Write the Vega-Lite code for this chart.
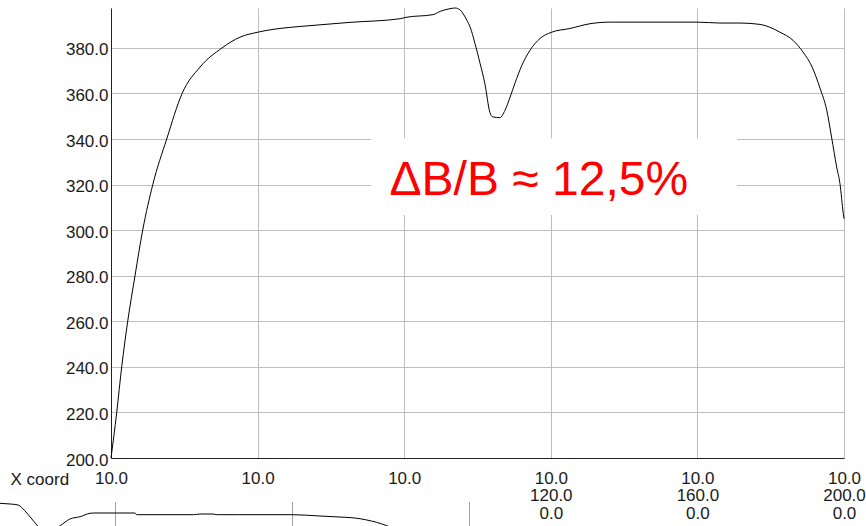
{
  "$schema": "https://vega.github.io/schema/vega-lite/v6.json",
  "width": 733,
  "height": 450,
  "autosize": "none",
  "padding": {"left": 111, "top": 8, "right": 22, "bottom": 68},
  "background": "white",
  "config": {"view": {"stroke": null}, "font": "Liberation Sans"},
  "datasets": {
    "main": [
      {"x": 0, "v": 200}, {"x": 1.56, "v": 220}, {"x": 2.92, "v": 240}, {"x": 4.56, "v": 260},
      {"x": 6.55, "v": 280}, {"x": 8.65, "v": 300}, {"x": 11.4, "v": 320}, {"x": 15.2, "v": 340},
      {"x": 19.4, "v": 360}, {"x": 24.3, "v": 371.6}, {"x": 30.3, "v": 380}, {"x": 35.2, "v": 384.7},
      {"x": 40.1, "v": 386.9}, {"x": 48.8, "v": 389.0}, {"x": 51.6, "v": 389.4}, {"x": 65.2, "v": 391.2},
      {"x": 78.9, "v": 392.8}, {"x": 80.5, "v": 393.4}, {"x": 87.9, "v": 394.6}, {"x": 89.8, "v": 396.0},
      {"x": 92.5, "v": 397.2}, {"x": 93.9, "v": 397.5}, {"x": 95.2, "v": 396.7}, {"x": 97.1, "v": 392.1},
      {"x": 98.0, "v": 389.1}, {"x": 99.3, "v": 382.0}, {"x": 100.7, "v": 373.2}, {"x": 102.0, "v": 364.4},
      {"x": 103.4, "v": 351.6}, {"x": 104.2, "v": 349.7}, {"x": 106.1, "v": 349.4}, {"x": 107.5, "v": 352.6},
      {"x": 108.9, "v": 358.4}, {"x": 110.2, "v": 364.4}, {"x": 112.1, "v": 372.3}, {"x": 114.3, "v": 378.9},
      {"x": 117.1, "v": 384.2}, {"x": 120.1, "v": 386.8}, {"x": 125.2, "v": 388.5}, {"x": 130.7, "v": 390.6},
      {"x": 136.2, "v": 391.3}, {"x": 159.9, "v": 391.3}, {"x": 166.2, "v": 390.9}, {"x": 171.6, "v": 390.9},
      {"x": 177.1, "v": 390.3}, {"x": 182.5, "v": 386.9}, {"x": 186.1, "v": 383.3}, {"x": 188.8, "v": 378.2},
      {"x": 191.3, "v": 371.6}, {"x": 193.5, "v": 362.1}, {"x": 195.3, "v": 352.6}, {"x": 196.6, "v": 340.9},
      {"x": 198.0, "v": 327.7}, {"x": 198.9, "v": 320.4}, {"x": 199.8, "v": 307.3}, {"x": 200, "v": 305}
    ],
    "note": [
      {"x1": 70.9, "x2": 170.8, "y1": 306.6, "y2": 340.3, "tx": 76.0, "ty": 315.3, "label": "ΔB/B ≈ 12,5%"}
    ],
    "lower": [
      {"lx": -26.1, "lv": 398.7}, {"lx": -23.8, "lv": 398}, {"lx": -22.0, "lv": 397}, {"lx": -20.5, "lv": 391.3},
      {"lx": -18.9, "lv": 383}, {"lx": -17.1, "lv": 374}, {"lx": -15.0, "lv": 370}, {"lx": -12.5, "lv": 376.3},
      {"lx": -10.3, "lv": 383}, {"lx": -8.0, "lv": 385.3}, {"lx": -5.8, "lv": 388.7}, {"lx": -5.0, "lv": 389},
      {"lx": 4.4, "lv": 389}, {"lx": 4.8, "lv": 387.3}, {"lx": 17.6, "lv": 387.3}, {"lx": 19.1, "lv": 388},
      {"lx": 22.0, "lv": 388}, {"lx": 22.9, "lv": 387.3}, {"lx": 28.1, "lv": 387.3}, {"lx": 40.0, "lv": 387.3},
      {"lx": 46.2, "lv": 386}, {"lx": 51.9, "lv": 384.7}, {"lx": 54.1, "lv": 384}, {"lx": 56.8, "lv": 382},
      {"lx": 59.0, "lv": 379.7}, {"lx": 61.3, "lv": 376.3}, {"lx": 63.2, "lv": 373}
    ],
    "lowergrid": [{"gx": 0}, {"gx": 40}, {"gx": 80}]
  },
  "layer": [
    {
      "layer": [
        {
          "data": {"name": "main"},
          "mark": {"type": "line", "color": "#000000", "strokeWidth": 1, "interpolate": "monotone"},
          "encoding": {
            "x": {
              "field": "x", "type": "quantitative",
              "scale": {"domain": [0, 200], "nice": false, "zero": false},
              "axis": {
                "values": [0, 40, 80, 120, 160, 200],
                "labelExpr": "datum.value >= 120 ? ['10.0', format(datum.value, '.1f'), '0.0'] : '10.0'",
                "grid": true, "gridColor": "#bdbdbd", "gridWidth": 1,
                "domainColor": "#222222", "domainWidth": 1,
                "ticks": false, "tickSize": 0,
                "labelFontSize": 17, "labelColor": "#1a1a1a", "labelLineHeight": 17.5,
                "labelPadding": 12.4, "labelBaseline": "top", "labelOverlap": false, "labelFlush": false,
                "title": "X coord", "titleX": -101, "titleY": 26, "titleAlign": "left",
                "titleBaseline": "alphabetic", "titleFontWeight": "normal", "titleFontSize": 17,
                "titleColor": "#1a1a1a", "titleAnchor": "start"
              }
            },
            "y": {
              "field": "v", "type": "quantitative",
              "scale": {"domain": [200, 397.5], "nice": false, "zero": false},
              "axis": {
                "values": [200, 220, 240, 260, 280, 300, 320, 340, 360, 380],
                "format": ".1f",
                "grid": true, "gridColor": "#bdbdbd", "gridWidth": 1,
                "domainColor": "#222222", "domainWidth": 1,
                "ticks": false, "tickSize": 0,
                "labelFontSize": 17, "labelColor": "#1a1a1a", "labelPadding": 3, "labelOffset": 2,
                "labelOverlap": false, "labelFlush": false,
                "title": null
              }
            }
          }
        },
        {
          "data": {"name": "note"},
          "mark": {"type": "rect", "fill": "white", "stroke": null},
          "encoding": {
            "x": {"field": "x1", "type": "quantitative", "scale": {"domain": [0, 200], "nice": false, "zero": false}},
            "x2": {"field": "x2"},
            "y": {"field": "y1", "type": "quantitative", "scale": {"domain": [200, 397.5], "nice": false, "zero": false}},
            "y2": {"field": "y2"}
          }
        },
        {
          "data": {"name": "note"},
          "mark": {"type": "text", "color": "#ff0000", "fontSize": 48, "align": "left", "baseline": "alphabetic", "font": "Liberation Sans"},
          "encoding": {
            "x": {"field": "tx", "type": "quantitative", "scale": {"domain": [0, 200], "nice": false, "zero": false}},
            "y": {"field": "ty", "type": "quantitative", "scale": {"domain": [200, 397.5], "nice": false, "zero": false}},
            "text": {"field": "label"}
          }
        }
      ]
    },
    {
      "layer": [
        {
          "data": {"name": "lowergrid"},
          "mark": {"type": "rule", "color": "#a0a0a0", "strokeWidth": 1, "clip": false},
          "encoding": {
            "x": {"field": "gx", "type": "quantitative", "scale": {"domain": [0, 80], "range": [4.5, 358.5], "nice": false, "zero": false}, "axis": null},
            "y": {"datum": 400, "type": "quantitative", "scale": {"domain": [200, 400], "range": [694, 494], "nice": false, "zero": false}, "axis": null},
            "y2": {"datum": 200}
          }
        },
        {
          "data": {"name": "lower"},
          "mark": {"type": "line", "color": "#000000", "strokeWidth": 1, "clip": false, "interpolate": "monotone"},
          "encoding": {
            "x": {"field": "lx", "type": "quantitative", "scale": {"domain": [0, 80], "range": [4.5, 358.5], "nice": false, "zero": false}, "axis": null},
            "y": {"field": "lv", "type": "quantitative", "scale": {"domain": [200, 400], "range": [694, 494], "nice": false, "zero": false}, "axis": null}
          }
        }
      ]
    }
  ],
  "resolve": {"scale": {"x": "independent", "y": "independent"}}
}
